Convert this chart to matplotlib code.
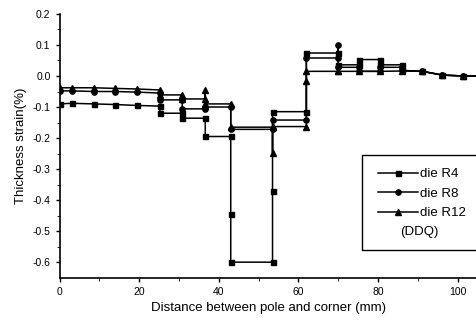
import matplotlib
matplotlib.use("Agg")
import matplotlib.pyplot as plt
from matplotlib.patches import Rectangle

plt.rcParams['font.family'] = ['Liberation Sans', 'DejaVu Sans']

# die R4 (squares)
x_r4 = [0, 3, 8.6, 14, 19.5, 25.2, 25.2, 30.8, 30.8, 36.6, 36.6, 43, 43, 43,
        53.5, 53.5, 53.5, 62, 62, 70, 70, 75.3, 75.3, 80.6, 80.6, 86, 86,
        91.1, 96.2, 101.3, 108]
y_r4 = [-0.09, -0.088, -0.09, -0.092, -0.095, -0.097, -0.12, -0.12, -0.136, -0.136, -0.195, -0.195, -0.445, -0.6,
        -0.6, -0.37, -0.115, -0.115, 0.074, 0.074, 0.036, 0.036, 0.053, 0.053, 0.036, 0.036, 0.018,
        0.015, 0.003, 0.0, 0.0]

# die R8 (circles)
x_r8 = [0, 3, 8.6, 14, 19.5, 25.2, 25.2, 30.8, 30.8, 36.6, 36.6, 43, 43,
        53.5, 53.5, 62, 62, 70, 70, 70, 75.3, 75.3, 80.6, 80.6, 86, 86,
        91.1, 96.2, 101.3, 108]
y_r8 = [-0.048, -0.048, -0.05, -0.05, -0.052, -0.055, -0.077, -0.077, -0.106, -0.106, -0.1, -0.1, -0.172,
        -0.172, -0.142, -0.142, 0.058, 0.058, 0.099, 0.028, 0.028, 0.015, 0.015, 0.028, 0.028, 0.018,
        0.015, 0.003, 0.0, 0.0]

# die R12 (triangles)
x_r12 = [0, 3, 8.6, 14, 19.5, 25.2, 25.2, 30.8, 30.8, 36.6, 36.6, 36.6, 43, 43,
         53.5, 53.5, 53.5, 62, 62, 62, 70, 70, 75.3, 80.6, 86,
         91.1, 96.2, 101.3, 108]
y_r12 = [-0.038, -0.038, -0.038, -0.04, -0.042, -0.045, -0.061, -0.061, -0.074, -0.074, -0.045, -0.09, -0.09, -0.165,
         -0.165, -0.247, -0.163, -0.163, -0.015, 0.015, 0.015, 0.015, 0.015, 0.015, 0.016,
         0.015, 0.003, 0.0, 0.0]

fig = plt.figure(figsize=(4.77, 3.24), dpi=100)
ax = fig.add_axes([0.125, 0.143, 0.876, 0.814])

ax.plot(x_r4, y_r4, color='black', lw=1.1, marker='s', ms=3.6, label='die R4')
ax.plot(x_r8, y_r8, color='black', lw=1.1, marker='o', ms=3.8, label='die R8')
ax.plot(x_r12, y_r12, color='black', lw=1.1, marker='^', ms=3.8, label='die R12')

ax.set_xlim(0, 105)
ax.set_ylim(-0.65, 0.2)
ax.set_xticks([0, 20, 40, 60, 80, 100])
ax.set_xticks([10, 30, 50, 70, 90], minor=True)
ax.set_yticks([0.2, 0.1, 0.0, -0.1, -0.2, -0.3, -0.4, -0.5, -0.6])
ax.set_yticks([0.15, 0.05, -0.05, -0.15, -0.25, -0.35, -0.45, -0.55], minor=True)
ax.set_yticklabels(['0.2', '0.1', '0.0', '-0.1', '-0.2', '-0.3', '-0.4', '-0.5', '-0.6'])
ax.tick_params(labelsize=7.5, length=3, width=1)
ax.tick_params(which='minor', length=2)
for s in ['top', 'right']:
    ax.spines[s].set_visible(False)
for s in ['left', 'bottom']:
    ax.spines[s].set_linewidth(1.2)

ax.set_xlabel('Distance between pole and corner (mm)', fontsize=9.5)
ax.set_ylabel('Thickness strain(%)', fontsize=9.5)

# legend box runs off the right edge as in the original
ax.add_patch(Rectangle((0.723, 0.104), 0.4, 0.361, transform=ax.transAxes,
                       fill=False, lw=1, clip_on=False))
ax.legend(loc='upper left', bbox_to_anchor=(0.74, 0.45), frameon=False,
          fontsize=9.5, handlelength=3.0, handletextpad=0.2, labelspacing=0.55,
          borderpad=0.2)
ax.text(0.815, 0.16, '(DDQ)', transform=ax.transAxes, fontsize=9.5)

fig.savefig('out.png', dpi=100)
